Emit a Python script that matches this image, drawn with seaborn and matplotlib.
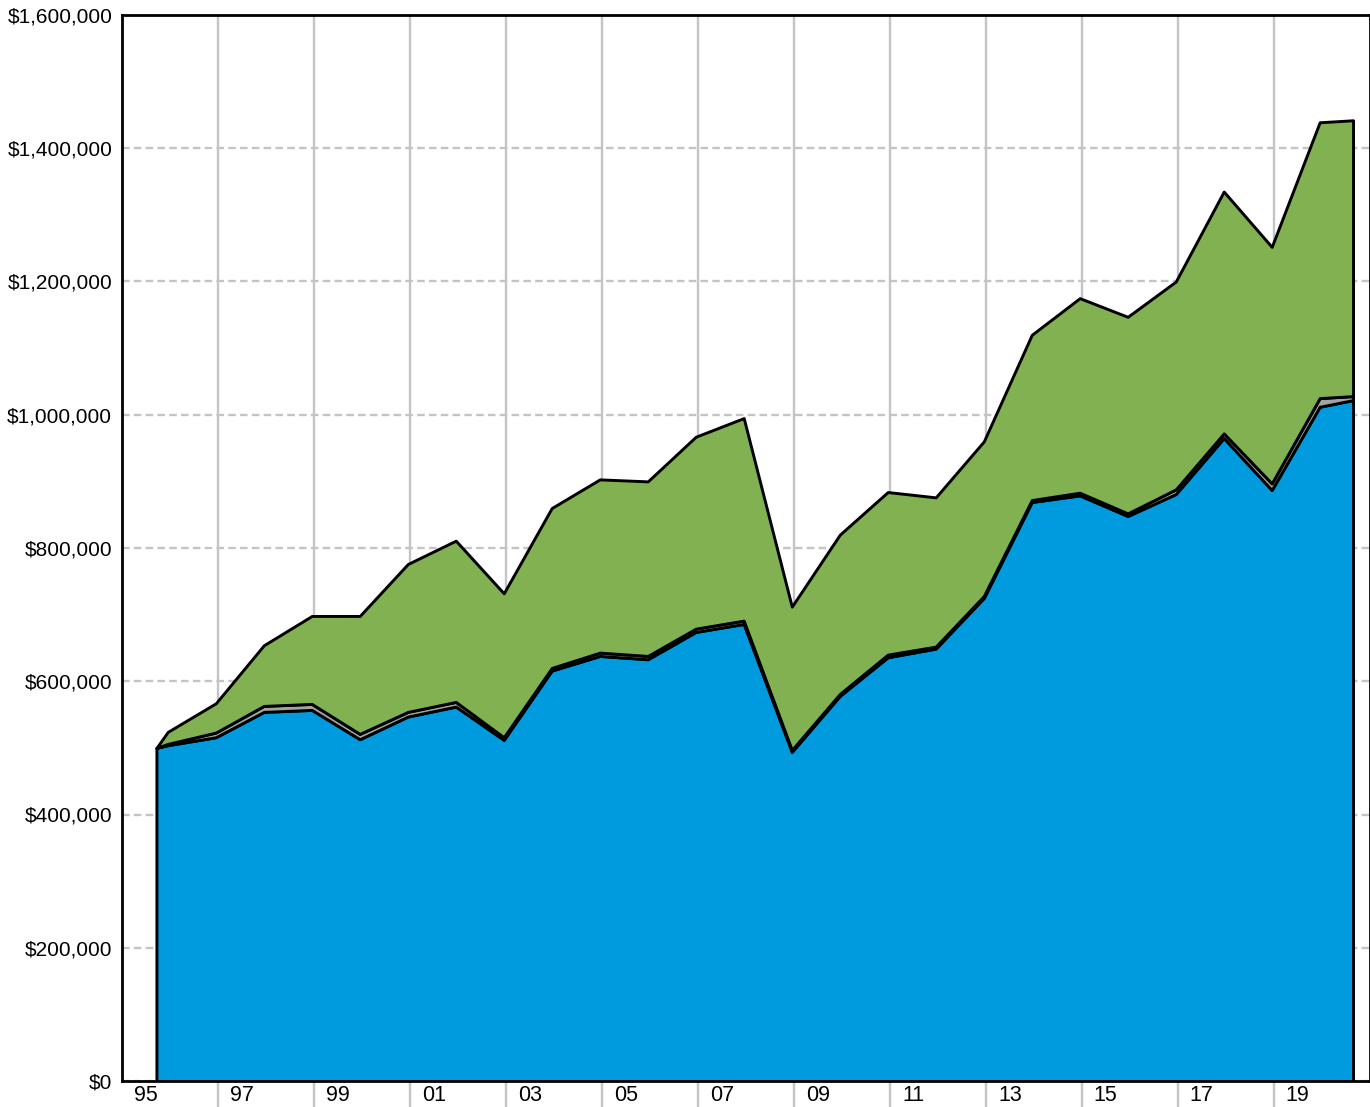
import matplotlib
matplotlib.use("Agg")
import matplotlib.pyplot as plt
import matplotlib.dates as mdates
import matplotlib.ticker as mticker
import pandas as pd
import seaborn as sns

# ---- data (values in dollars) ----
dates = ["1995-09-20", "1995-12-15", "1996-12-15", "1997-12-15", "1998-12-15",
         "1999-12-15", "2000-12-15", "2001-12-15", "2002-12-15", "2003-12-15",
         "2004-12-15", "2005-12-15", "2006-12-15", "2007-12-15", "2008-12-15",
         "2009-12-15", "2010-12-15", "2011-12-15", "2012-12-15", "2013-12-15",
         "2014-12-15", "2015-12-15", "2016-12-15", "2017-12-15", "2018-12-15",
         "2019-12-15", "2020-08-25"]
blue_vals = [500000, 504000, 516000, 554000, 557000, 513000, 547000, 562000, 512000,
             616000, 638000, 633000, 674000, 686000, 494000, 578000, 636000, 649000,
             725000, 869000, 879000, 848000, 881000, 965000, 887000, 1012000, 1022000]
gray_vals = [0, 2000, 7000, 9000, 9000, 8000, 7000, 7000, 4000, 4000, 5000, 5000,
             5000, 5000, 3000, 3000, 4000, 3000, 3000, 3000, 4000, 4000, 7000, 7000,
             10000, 13000, 6000]
green_vals = [0, 18000, 44000, 91000, 132000, 177000, 222000, 242000, 216000, 240000,
              260000, 262000, 288000, 304000, 215000, 239000, 244000, 224000, 232000,
              248000, 292000, 295000, 312000, 363000, 355000, 414000, 414000]
y_ticks = [0, 200000, 400000, 600000, 800000, 1000000, 1200000, 1400000, 1600000]
grid_years = list(range(1997, 2021, 2))
label_years = list(range(1995, 2021, 2))

df = pd.DataFrame({"date": pd.to_datetime(dates), "blue": blue_vals,
                   "gray": gray_vals, "green": green_vals})

sns.set_theme(style="white")
plt.rcParams["font.family"] = ["Liberation Sans", "DejaVu Sans"]

fig = plt.figure(figsize=(13.7, 11.07), dpi=100)
ax = fig.add_axes([122 / 1370, 26 / 1107, 1248 / 1370, 1066 / 1107])

ax.stackplot(df["date"], df["blue"], df["gray"], df["green"],
             colors=["#009BDE", "#A3A3A3", "#82B152"],
             edgecolor="black", linewidth=2.1, zorder=3)

ax.set_xlim(pd.Timestamp("1995-01-01"), pd.Timestamp("2021-01-01"))
ax.set_ylim(0, 1600000)

# x axis: gridlines on odd-year boundaries, labels mid-year
ax.xaxis.set_major_locator(mticker.FixedLocator(
    [mdates.date2num(pd.Timestamp(f"{y}-01-01")) for y in grid_years]))
ax.xaxis.set_major_formatter(mticker.NullFormatter())
ax.xaxis.set_minor_locator(mticker.FixedLocator(
    [mdates.date2num(pd.Timestamp(f"{y}-07-01")) for y in label_years]))
ax.xaxis.set_minor_formatter(mticker.FixedFormatter([f"{y % 100:02d}" for y in label_years]))
ax.tick_params(axis="x", which="major", length=30, width=1.7, color="#C4C4C4",
               direction="out", bottom=True)
ax.tick_params(axis="x", which="minor", length=0, pad=3, labelsize=15.5, colors="black",
               bottom=True)

ax.set_yticks(y_ticks)
ax.yaxis.set_major_formatter(mticker.FuncFormatter(lambda v, p: f"${v:,.0f}"))
ax.tick_params(axis="y", length=0, pad=7, labelsize=15, colors="black")

ax.grid(axis="x", which="major", color="#C4C4C4", linestyle="-", linewidth=1.7, zorder=0)
ax.grid(axis="y", which="major", color="#C4C4C4", linestyle=(0, (3.2, 1.8)),
        linewidth=1.7, zorder=0)
ax.set_axisbelow(True)

for s in ax.spines.values():
    s.set_visible(True)
    s.set_color("black")
    s.set_linewidth(2.0)

ax.set_xlabel("")
ax.set_ylabel("")

fig.savefig("out.png", dpi=100)
